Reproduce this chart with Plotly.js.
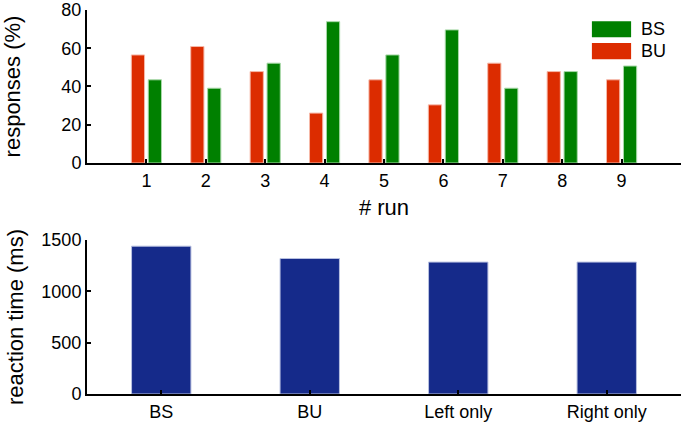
<!doctype html>
<html>
	<head>
		<meta charset="utf-8">
		<script src="https://cdn.plot.ly/plotly-3.0.1.min.js"></script>
		<style>
			html, body { margin: 0; padding: 0; background: #fff; }
			#chart { width: 681px; height: 425px; }
		</style>
	</head>
	<body>
		<div id="chart"></div>
		<script>
			// responses per run (%)
			let runs = [1, 2, 3, 4, 5, 6, 7, 8, 9]
			let bu = [56.5, 60.9, 47.8, 26.1, 43.5, 30.4, 52.2, 47.8, 43.5]
			let bs = [43.5, 39.1, 52.2, 73.9, 56.5, 69.6, 39.1, 47.8, 50.7]
			let seriesNames = ['BS', 'BU']

			// reaction times (ms)
			let conditions = ['BS', 'BU', 'Left only', 'Right only']
			let reaction = [1440, 1320, 1285, 1285]

			let red = '#dc2c00'
			let green = '#008000'
			let blue = '#152a8a'

			let axisStyle = {
				showline: true,
				linecolor: '#000',
				linewidth: 2,
				ticks: 'inside',
				ticklen: 4,
				tickwidth: 2,
				tickcolor: '#000',
				showgrid: false,
				zeroline: false
			}

			let traces = [
				{
					x: runs, y: bu, name: 'BU', type: 'bar',
					marker: { color: red, line: { color: '#f6b8a8', width: 1 } },
					xaxis: 'x', yaxis: 'y'
				},
				{
					x: runs, y: bs, name: 'BS', type: 'bar',
					marker: { color: green, line: { color: '#a8d8a8', width: 1 } },
					xaxis: 'x', yaxis: 'y'
				},
				{
					x: conditions, y: reaction, name: 'rt', type: 'bar',
					width: 0.4,
					marker: { color: blue, line: { color: '#b8c0e0', width: 1 } },
					xaxis: 'x2', yaxis: 'y2'
				}
			]

			// legend drawn by hand: wide swatches like the original figure
			let swatchColors = [green, red]
			let shapes = []
			let annotations = []
			seriesNames.forEach((name, i) => {
				let top = 0.971 - i * 0.057
				shapes.push({
					type: 'rect', xref: 'paper', yref: 'paper',
					x0: 0.850, x1: 0.916, y0: top - 0.042, y1: top,
					fillcolor: swatchColors[i],
					line: { width: 0 }
				})
				annotations.push({
					xref: 'paper', yref: 'paper',
					x: 0.929, y: top - 0.021,
					xanchor: 'left', yanchor: 'middle',
					text: name, showarrow: false,
					font: { size: 18 }
				})
			})

			let layout = {
				width: 681,
				height: 425,
				margin: { l: 87, r: 0, t: 10, b: 31 },
				paper_bgcolor: '#fff',
				plot_bgcolor: '#fff',
				font: { family: 'Liberation Sans, Arial, sans-serif', size: 18, color: '#000' },
				showlegend: false,
				barmode: 'group',
				bargap: 0.43,
				bargroupgap: 0.22,
				shapes,
				annotations,
				xaxis: Object.assign({}, axisStyle, {
					domain: [0, 1],
					anchor: 'y',
					range: [0, 10],
					tickvals: runs,
					title: { text: '# run', standoff: 10 }
				}),
				yaxis: Object.assign({}, axisStyle, {
					domain: [0.6016, 1],
					anchor: 'x',
					range: [0, 80],
					dtick: 20,
					title: { text: 'responses (%)', standoff: 36 }
				}),
				xaxis2: Object.assign({}, axisStyle, {
					domain: [0, 1],
					anchor: 'y2',
					type: 'category',
					range: [-0.5, 3.5]
				}),
				yaxis2: Object.assign({}, axisStyle, {
					domain: [0, 0.401],
					anchor: 'x2',
					range: [0, 1500],
					dtick: 500,
					title: { text: 'reaction time (ms)', standoff: 12 }
				})
			}

			Plotly.newPlot('chart', traces, layout, { displayModeBar: false, staticPlot: true })
		</script>
	</body>
</html>
